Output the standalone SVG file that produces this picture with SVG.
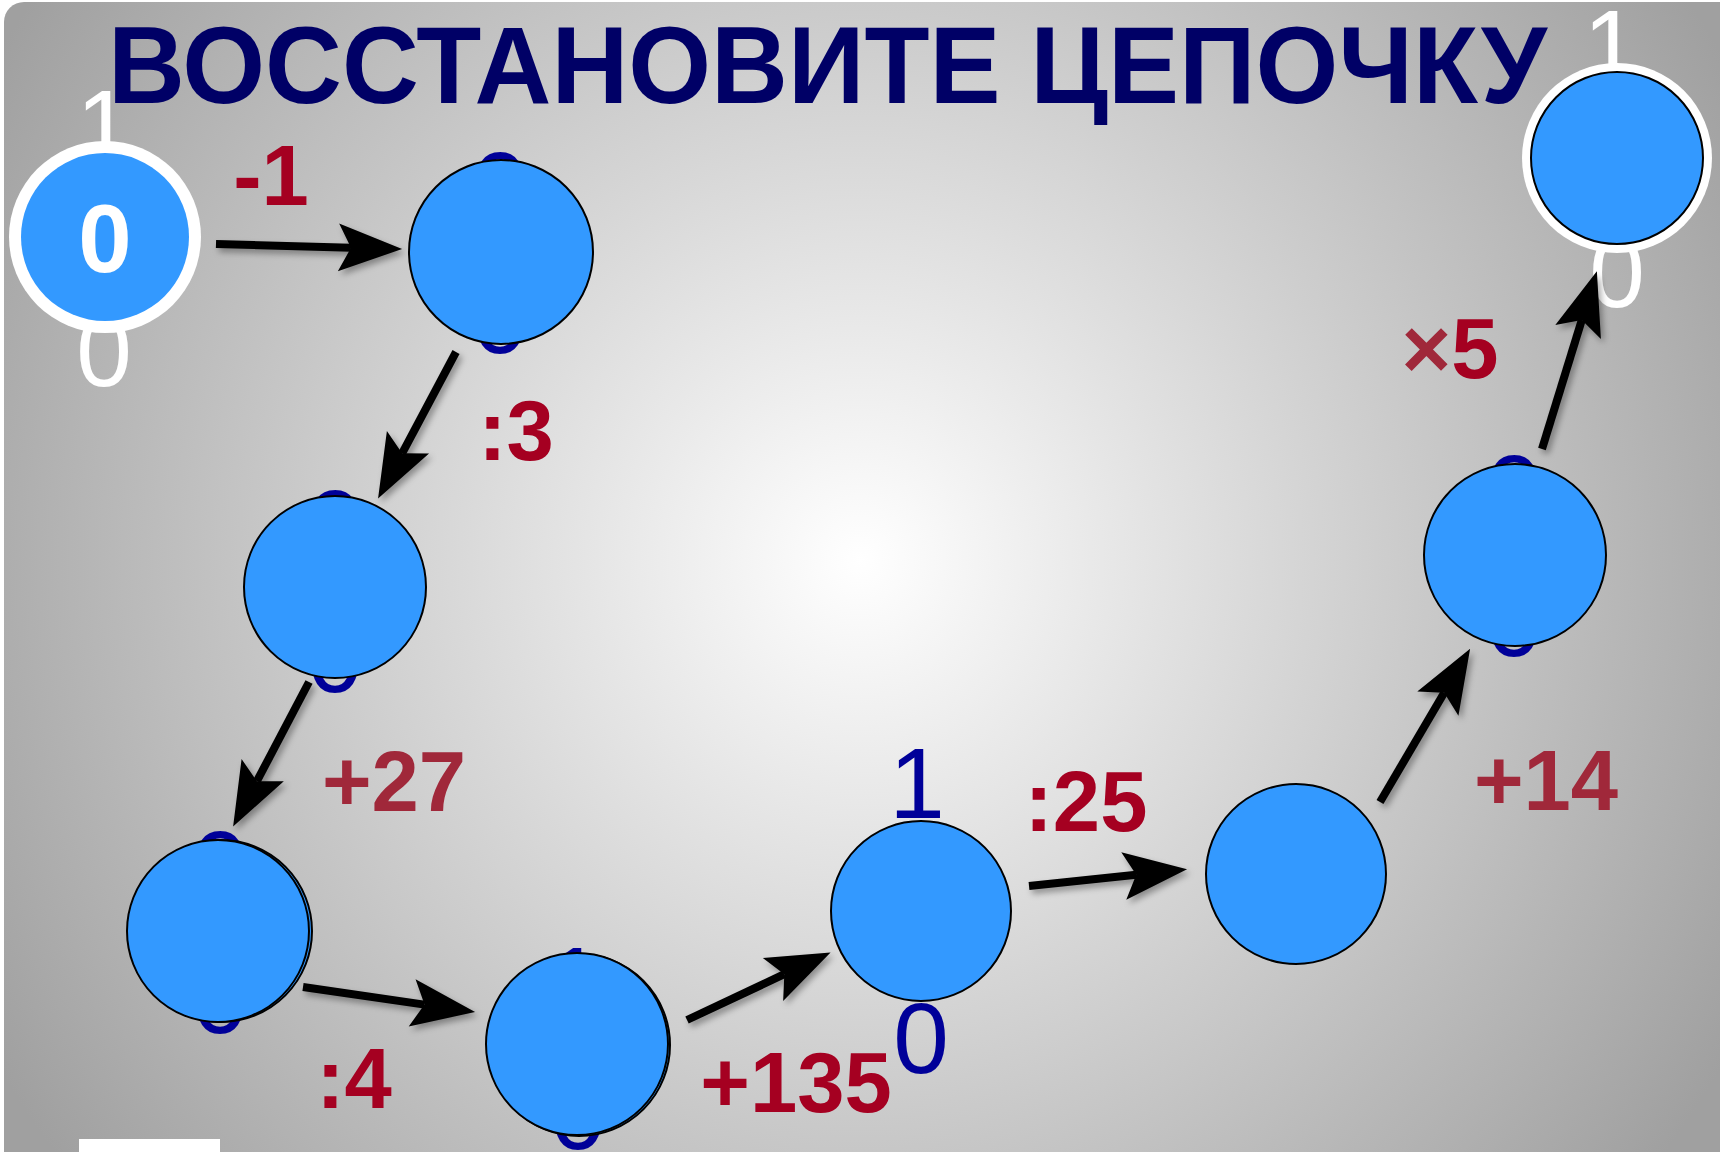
<svg xmlns="http://www.w3.org/2000/svg" width="1720" height="1152" viewBox="0 0 1720 1152">
<defs>
  <radialGradient id="bg" gradientUnits="userSpaceOnUse" cx="860" cy="560" r="1000">
    <stop offset="0" stop-color="#FFFFFF"/>
    <stop offset="1" stop-color="#A0A0A0"/>
  </radialGradient>
  <marker id="head" markerUnits="userSpaceOnUse" orient="auto" refX="0" refY="0" markerWidth="70" markerHeight="50" viewBox="-12 -22 60 44" overflow="visible">
    <path d="M45,0 L-11,-21 L0,0 L-11,21 Z" fill="#000"/>
  </marker>
  <filter id="shadow" x="-20%" y="-20%" width="140%" height="140%">
    <feDropShadow dx="3" dy="4" stdDeviation="3" flood-color="#000" flood-opacity="0.35"/>
  </filter>
  <style>
    .node { fill: #3399FF; stroke: #000; stroke-width: 2; }
    .hid { font-family: "Liberation Sans", Arial, sans-serif; font-size: 100px; fill: #000099; text-anchor: middle; }
    .hidw { font-family: "Liberation Sans", Arial, sans-serif; font-size: 100px; fill: #FFFFFF; text-anchor: middle; }
    .lbl { font-family: "Liberation Sans", Arial, sans-serif; font-weight: bold; font-size: 85px; fill: #A50021; text-anchor: middle; }
    .lbl2 { fill: #A0283A; }
    .arr { stroke: #000; stroke-width: 8; fill: none; marker-end: url(#head); }
  </style>
</defs>

<rect x="4" y="2" width="1740" height="1170" rx="20" ry="20" fill="url(#bg)"/>
<rect x="79" y="1139" width="141" height="13" fill="#FFFFFF"/>

<g id="hidden-digits">
  <text class="hidw" x="104" y="160">1</text>
  <text class="hidw" x="104" y="386">0</text>
  <text class="hid" x="500" y="222">0</text>
  <text class="hid" x="500" y="353">0</text>
  <text class="hid" x="335" y="560">0</text>
  <text class="hid" x="335" y="692">0</text>
  <text class="hid" x="220" y="901">0</text>
  <text class="hid" x="220" y="1033">0</text>
  <text class="hid" x="575" y="1017">1</text>
  <text class="hid" x="578" y="1149">0</text>
  <text class="hid" x="917" y="818">1</text>
  <text class="hid" x="921" y="1073">0</text>
  <text class="hid" x="1514" y="525">0</text>
  <text class="hid" x="1514" y="656">0</text>
  <text class="hidw" x="1611" y="80">1</text>
  <text class="hidw" x="1617" y="307">0</text>
</g>

<g id="node-start">
  <circle cx="105" cy="237" r="96" fill="#FFFFFF"/>
  <circle cx="105" cy="237" r="84" fill="#3399FF"/>
  <text x="105" y="272" font-family="'Liberation Sans', Arial, sans-serif" font-weight="bold" font-size="96" fill="#FFFFFF" text-anchor="middle">0</text>
</g>
<g id="node-2"><circle class="node" cx="501" cy="252" r="92"/></g>
<g id="node-3"><circle class="node" cx="335" cy="587" r="91"/></g>
<g id="node-4">
  <circle class="node" cx="221" cy="931" r="91"/>
  <circle class="node" cx="218" cy="931" r="91"/>
</g>
<g id="node-5">
  <circle class="node" cx="579" cy="1045" r="91"/>
  <circle class="node" cx="577" cy="1044" r="91"/>
</g>
<g id="node-6"><circle class="node" cx="921" cy="911" r="90"/></g>
<g id="node-7"><circle class="node" cx="1296" cy="874" r="90"/></g>
<g id="node-8"><circle class="node" cx="1515" cy="555" r="91"/></g>
<g id="node-end">
  <circle cx="1617" cy="158" r="95" fill="#FFFFFF"/>
  <circle class="node" cx="1617" cy="158" r="86"/>
</g>

<g id="connectors" filter="url(#shadow)">
  <line class="arr" x1="216" y1="244" x2="351" y2="247.7"/>
  <line class="arr" x1="456" y1="352" x2="402.1" y2="453.3"/>
  <line class="arr" x1="309" y1="682" x2="256.9" y2="781.2"/>
  <line class="arr" x1="303" y1="987" x2="424.5" y2="1004.6"/>
  <line class="arr" x1="687" y1="1020" x2="784.3" y2="974.2"/>
  <line class="arr" x1="1029" y1="886" x2="1136.2" y2="874.7"/>
  <line class="arr" x1="1380" y1="802" x2="1444.2" y2="692.8"/>
  <line class="arr" x1="1542" y1="449" x2="1581.8" y2="320"/>
</g>

<g id="labels">
  <text class="lbl" x="271" y="205">-1</text>
  <text class="lbl" x="516" y="460">:3</text>
  <text class="lbl lbl2" x="394" y="811">+27</text>
  <text class="lbl" x="354" y="1108">:4</text>
  <text class="lbl" x="796" y="1112" font-size="87">+135</text>
  <text class="lbl" x="1086" y="831">:25</text>
  <text class="lbl lbl2" x="1546" y="810">+14</text>
  <text class="lbl" x="1450" y="378"><tspan class="lbl2">×</tspan>5</text>
</g>

<text id="title" x="108" y="103" font-family="'Liberation Sans', Arial, sans-serif" font-weight="bold" font-size="110" fill="#000066" textLength="1439" lengthAdjust="spacingAndGlyphs">ВОССТАНОВИТЕ ЦЕПОЧКУ</text>
</svg>
